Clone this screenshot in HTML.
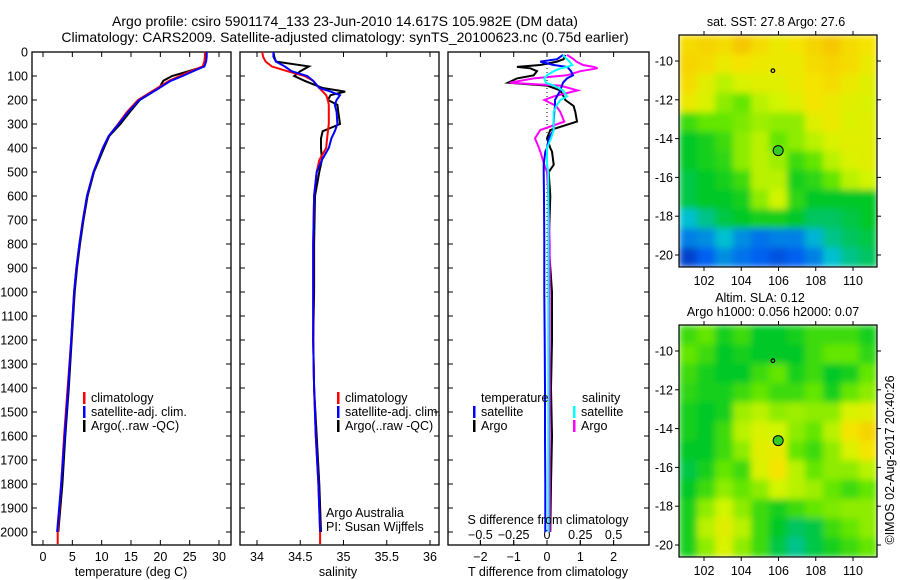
<!DOCTYPE html>
<html><head><meta charset="utf-8"><style>
body{margin:0;background:#fff;}
svg{display:block;font-family:"Liberation Sans",sans-serif;}
text{fill:#000;}
</style></head><body>
<svg id="c" width="900" height="580" viewBox="0 0 900 580">
<defs><filter id="bl" x="0" y="0" width="1" height="1"><feGaussianBlur stdDeviation="3.5" edgeMode="duplicate"/></filter>
<clipPath id="cm1"><rect x="679" y="35" width="198" height="232"/></clipPath>
<clipPath id="cm2"><rect x="679" y="325" width="198" height="232"/></clipPath></defs>
<text x="345" y="26" font-size="14" text-anchor="middle">Argo profile: csiro 5901174_133 23-Jun-2010 14.617S 105.982E (DM data)</text>
<text x="345" y="42" font-size="14" text-anchor="middle">Climatology: CARS2009. Satellite-adjusted climatology: synTS_20100623.nc (0.75d earlier)</text>
</svg>
<script>
// ---- data ----
const depthT=[0,20,40,60,80,100,120,150,200,250,300,350,400,500,600,700,800,900,1000,1200,1400,1600,1800,2000,2050];
const tempClim=[27.6,27.6,27.5,27.2,25.2,23.3,21.5,19.5,16.2,14.3,12.8,11.2,10.2,8.6,7.5,6.8,6.2,5.7,5.3,4.8,4.2,3.6,3.1,2.5,2.5];
const tempSat=[27.9,27.9,27.8,27.5,25.6,23.8,21.8,19.8,16.4,14.5,12.9,11.2,10.2,8.6,7.5,6.8,6.2,5.7,5.3,4.8,4.3,3.7,3.1,2.4,2.4];
const tempArgo=[27.7,27.8,27.7,27.5,24.8,22.0,20.5,19.8,16.5,14.8,13.2,11.3,10.4,8.7,7.6,6.9,6.3,5.8,5.4,4.9,4.4,3.8,3.3,2.6,2.6];
const depthS=[0,20,40,60,80,100,120,150,165,180,200,220,250,300,330,360,400,450,500,600,800,1000,1200,1400,1600,1800,2000,2050];
const salClim=[34.06,34.07,34.1,34.17,34.35,34.55,34.65,34.72,34.76,34.8,34.82,34.83,34.83,34.83,34.82,34.81,34.8,34.72,34.69,34.66,34.65,34.65,34.65,34.66,34.68,34.71,34.73,34.73];
const salSat=[34.19,34.19,34.22,34.32,34.4,34.58,34.65,34.72,34.85,34.96,34.92,34.9,34.92,34.93,34.9,34.86,34.83,34.75,34.69,34.66,34.65,34.65,34.65,34.66,34.68,34.71,34.73,34.73];
const salArgo=[34.19,34.2,34.22,34.6,34.5,34.43,34.55,34.76,35.02,34.85,34.82,34.93,34.94,34.96,34.76,34.74,34.74,34.75,34.72,34.67,34.66,34.66,34.65,34.66,34.69,34.72,34.74,34.74];
const depthD=[12,30,40,54,62,68,80,97,110,128,140,160,185,200,225,250,290,325,360,400,415,470,500,600,800,1000,1200,1400,1600,1800,2000];
const tDiffSat=[.48,.3,-.2,.2,.6,.65,.72,.78,.6,.48,.45,.4,.3,.24,.24,.22,.2,.2,.05,0,-.05,-.1,-.1,-.09,-.08,-.08,-.07,-.06,-.06,-.05,-.05];
const tDiffArgo=[.55,.5,.3,-.2,-.9,-.5,-.3,-.4,-.9,-1.17,0,.4,.5,.55,.8,.85,.9,.1,0,.1,.15,.2,.05,.1,.05,.15,.15,.12,.15,.12,.1];
const sDiffArgo=[.15,.2,.22,.27,.35,.38,.25,.15,-.1,-.28,.1,.23,.05,-.02,.07,.1,.13,-.05,-.09,-.06,-.05,-.02,0,.01,.02,.02,.02,.02,.02,.02,.02];
const sDiffSat=[.12,.15,.17,.19,.15,.1,.05,0,-.02,-.01,.05,.12,.15,.1,.07,.05,.05,.05,.03,0,0,0,.01,.01,.01,.01,.01,.01,.01,.01,.01];
const depthTicks=[0,100,200,300,400,500,600,700,800,900,1000,1100,1200,1300,1400,1500,1600,1700,1800,1900,2000];
const tempTicks=[0,5,10,15,20,25,30];
const salTicks=["34","34.5","35","35.5","36"];
const tDiffTicks=[-2,-1,0,1,2];
const sDiffTicks=["-0.5","-0.25","0","0.25","0.5"];
const lonTicks=[102,104,106,108,110];
const latTicks=[-10,-12,-14,-16,-18,-20];
const sstGrid=[
[.8,.82,.8,.85,.8,.75,.78,.82,.85,.8,.78],
[.82,.8,.75,.78,.75,.75,.75,.8,.82,.8,.75],
[.8,.72,.65,.7,.72,.72,.75,.78,.8,.75,.72],
[.75,.7,.6,.55,.65,.68,.72,.78,.75,.72,.7],
[.5,.55,.55,.58,.62,.6,.6,.72,.75,.7,.72],
[.42,.45,.5,.6,.65,.55,.6,.65,.7,.72,.72],
[.42,.45,.48,.6,.65,.62,.5,.55,.65,.7,.72],
[.4,.42,.45,.5,.65,.65,.45,.48,.55,.65,.68],
[.4,.42,.42,.45,.6,.68,.48,.42,.42,.42,.42],
[.3,.35,.4,.42,.45,.45,.42,.38,.38,.4,.42],
[.2,.22,.3,.22,.18,.2,.2,.28,.35,.38,.4],
[.08,.15,.22,.18,.15,.12,.15,.2,.3,.35,.38]];
const slaGrid=[
[.5,.55,.45,.5,.42,.42,.45,.5,.5,.5,.45],
[.55,.5,.42,.45,.42,.42,.42,.5,.55,.55,.48],
[.5,.45,.42,.42,.5,.55,.45,.5,.42,.45,.55],
[.48,.45,.45,.5,.55,.5,.5,.55,.45,.55,.6],
[.45,.42,.45,.62,.65,.6,.62,.6,.6,.7,.72],
[.45,.42,.5,.65,.7,.68,.6,.55,.65,.78,.82],
[.42,.42,.5,.6,.72,.75,.55,.5,.6,.7,.78],
[.4,.45,.55,.5,.7,.78,.65,.55,.6,.6,.65],
[.42,.5,.6,.55,.6,.68,.65,.62,.55,.5,.55],
[.45,.6,.68,.6,.5,.45,.5,.55,.58,.6,.6],
[.45,.65,.72,.65,.5,.42,.38,.4,.5,.55,.6],
[.45,.6,.7,.6,.5,.4,.35,.4,.45,.5,.55]];
const argoLon=105.982, argoLat=-14.617, otherLon=105.7, otherLat=-10.5;

// ---- helpers ----
const svg=document.getElementById('c');
const NS='http://www.w3.org/2000/svg';
function mk(tag,attrs,parent){const e=document.createElementNS(NS,tag);for(const k in attrs)e.setAttribute(k,attrs[k]);(parent||svg).appendChild(e);return e;}
function txt(x,y,s,size,anchor,parent){const t=mk('text',{x:x,y:y,'font-size':size,'text-anchor':anchor||'middle'},parent);t.textContent=s;return t;}
const yD=d=>52+0.24*d;
const P1={l:32,r:231}, P2={l:240,r:439}, P3={l:448,r:649};
const pTop=52,pBot=545;
const xT=v=>43+v*5.867;
const xS=v=>257+(v-34)*86.5;
const xTD=v=>547+v*33.3;
const xSD=v=>547+v*133.2;

function panel(P,name){
  const g=mk('g',{});
  
  
  mk('rect',{x:P.l,y:pTop,width:P.r-P.l,height:pBot-pTop,fill:'none',stroke:'#000','stroke-width':1.3},g);
  depthTicks.forEach(d=>{
    mk('line',{x1:P.l,x2:P.l+5,y1:yD(d),y2:yD(d),stroke:'#000'},g);
    mk('line',{x1:P.r-5,x2:P.r,y1:yD(d),y2:yD(d),stroke:'#000'},g);
  });
  return g;
}
function line(xs,ds,fx,color,name,parent,w){
  const pts=xs.map((v,i)=>fx(v).toFixed(1)+','+yD(ds[i]).toFixed(1)).join(' ');
  const p=mk('polyline',{points:pts,fill:'none',stroke:color,'stroke-width':w||2},parent);
  
  
  return p;
}
function legend(x,y,color,label,name){
  const g=mk('g',{});
  
  
  mk('rect',{x:x,y:y-10,width:2.5,height:12,fill:color},g);
  txt(x+8,y,label,12.5,'start',g);
}

// y axis labels
const ya=mk('g',{});


depthTicks.forEach(d=>txt(28,yD(d)+4.5,String(d),12.5,'end',ya));

// panel 1: temperature
const g1=panel(P1,'temperature-panel');
tempTicks.forEach(v=>{mk('line',{x1:xT(v),x2:xT(v),y1:pBot,y2:pBot-5,stroke:'#000'},g1);mk('line',{x1:xT(v),x2:xT(v),y1:pTop,y2:pTop+5,stroke:'#000'},g1);txt(xT(v),561,String(v),12.5,'middle',g1);});
txt(131,576,'temperature (deg C)',12.5,'middle',g1);
line(tempArgo.slice(0,24),depthT.slice(0,24),xT,'#000','temp-argo-line',g1);
line(tempClim,depthT,xT,'#f00','temp-climatology-line',g1);
line(tempSat.slice(0,24),depthT.slice(0,24),xT,'#00f','temp-satellite-line',g1);
legend(83,402,'#f00','climatology','legend-climatology');
legend(83,416,'#00f','satellite-adj. clim.','legend-satellite-adj');
legend(83,430,'#000','Argo(..raw -QC)','legend-argo');

// panel 2: salinity
const g2=panel(P2,'salinity-panel');
salTicks.forEach(s=>{const v=parseFloat(s);mk('line',{x1:xS(v),x2:xS(v),y1:pBot,y2:pBot-5,stroke:'#000'},g2);mk('line',{x1:xS(v),x2:xS(v),y1:pTop,y2:pTop+5,stroke:'#000'},g2);txt(xS(v),561,s,12.5,'middle',g2);});
txt(338,576,'salinity',12.5,'middle',g2);
line(salArgo.slice(0,27),depthS.slice(0,27),xS,'#000','sal-argo-line',g2);
line(salClim,depthS,xS,'#f00','sal-climatology-line',g2);
line(salSat.slice(0,27),depthS.slice(0,27),xS,'#00f','sal-satellite-line',g2);
legend(337,402,'#f00','climatology','legend-sal-climatology');
legend(337,416,'#00f','satellite-adj. clim.','legend-sal-satellite-adj');
legend(337,430,'#000','Argo(..raw -QC)','legend-sal-argo');
txt(326,517,'Argo Australia',12.5,'start',g2);
txt(326,531,'PI: Susan Wijffels',12.5,'start',g2);

// panel 3: differences
const g3=panel(P3,'difference-panel');
tDiffTicks.forEach(v=>{mk('line',{x1:xTD(v),x2:xTD(v),y1:pBot,y2:pBot-5,stroke:'#000'},g3);mk('line',{x1:xTD(v),x2:xTD(v),y1:pTop,y2:pTop+5,stroke:'#000'},g3);txt(xTD(v),561,String(v).replace('-','\u2212'),12.5,'middle',g3);});
sDiffTicks.forEach(s=>{const v=parseFloat(s);mk('line',{x1:xSD(v),x2:xSD(v),y1:pBot,y2:pBot-5,stroke:'#000'},g3);txt(xSD(v),539,s.replace('-','\u2212'),12.5,'middle',g3);});
mk('line',{x1:547,x2:547,y1:pTop,y2:300,stroke:'#000','stroke-dasharray':'1,3'},g3);
line(tDiffArgo,depthD,xTD,'#000','tdiff-argo-line',g3);
line(sDiffArgo,depthD,xSD,'#f0f','sdiff-argo-line',g3);
line(tDiffSat,depthD,xTD,'#00f','tdiff-satellite-line',g3);
line(sDiffSat,depthD,xSD,'#0ff','sdiff-satellite-line',g3);
txt(481,402,'temperature',12.5,'start',g3);
legend(473,416,'#00f','satellite','legend-tdiff-satellite');
legend(473,430,'#000','Argo','legend-tdiff-argo');
txt(582,402,'salinity',12.5,'start',g3);
legend(573,416,'#0ff','satellite','legend-sdiff-satellite');
legend(573,430,'#f0f','Argo','legend-sdiff-argo');
txt(548,524,'S difference from climatology',12.5,'middle',g3);
txt(548,576,'T difference from climatology',12.5,'middle',g3);

// maps
const stops=[[0,[0,32,160]],[.15,[0,96,240]],[.3,[0,192,208]],[.42,[0,200,40]],[.55,[100,230,0]],[.68,[210,245,0]],[.78,[245,228,0]],[.9,[245,180,0]],[1,[240,120,0]]];
function col(v){for(let i=1;i<stops.length;i++){if(v<=stops[i][0]){const a=stops[i-1],b=stops[i];const t=(v-a[0])/(b[0]-a[0]);return 'rgb('+a[1].map((c,k)=>Math.round(c+(b[1][k]-c)*t)).join(',')+')';}}return 'rgb(240,120,0)';}
const mL=679,mW=198,mH=232;
const xLon=lon=>704+(lon-102)*18.625;
function map(grid,y0,name,clip){
  const g=mk('g',{});
  
  
  const yLat=lat=>y0+26+(-10-lat)*19.4;
  const cg=mk('g',{'clip-path':'url(#'+clip+')'},g);
  const hm=mk('g',{filter:'url(#bl)'},cg);
  const R=grid.length,C=grid[0].length;
  grid.forEach((row,r)=>row.forEach((v,c)=>{
    const cell=mk('rect',{x:mL+c*mW/C,y:y0+r*mH/R,width:mW/C+0.6,height:mH/R+0.6,fill:col(v)},hm);
    
    
  }));
  mk('rect',{x:mL,y:y0,width:mW,height:mH,fill:'none',stroke:'#000','stroke-width':1.2},g);
  lonTicks.forEach(v=>{mk('line',{x1:xLon(v),x2:xLon(v),y1:y0+mH,y2:y0+mH+4,stroke:'#000'},g);mk('line',{x1:xLon(v),x2:xLon(v),y1:y0,y2:y0-4,stroke:'#000'},g);txt(xLon(v),y0+mH+18,String(v),12.5,'middle',g);});
  latTicks.forEach(v=>{mk('line',{x1:mL,x2:mL-4,y1:yLat(v),y2:yLat(v),stroke:'#000'},g);mk('line',{x1:mL+mW,x2:mL+mW+4,y1:yLat(v),y2:yLat(v),stroke:'#000'},g);txt(mL-6,yLat(v)+4.5,String(v),12.5,'end',g);});
  mk('circle',{cx:xLon(otherLon),cy:yLat(otherLat),r:1.8,fill:'none',stroke:'#000','stroke-width':1.2},g);
  const dot=mk('circle',{cx:xLon(argoLon),cy:yLat(argoLat),r:5,fill:'#33cc22',stroke:'#000','stroke-width':1},g);
  
  
  return g;
}
map(sstGrid,35,'sst-map','cm1');
map(slaGrid,325,'sla-map','cm2');
txt(776,26,'sat. SST: 27.8 Argo: 27.6',12.5,'middle');
txt(760,302,'Altim. SLA: 0.12',12.5,'middle');
txt(773,316,'Argo h1000: 0.056 h2000: 0.07',12.5,'middle');
const cr=txt(0,0,'\u00a9IMOS 02-Aug-2017 20:40:26',12.5,'middle');
cr.setAttribute('transform','translate(894,460) rotate(-90)');


</script>
</body></html>
